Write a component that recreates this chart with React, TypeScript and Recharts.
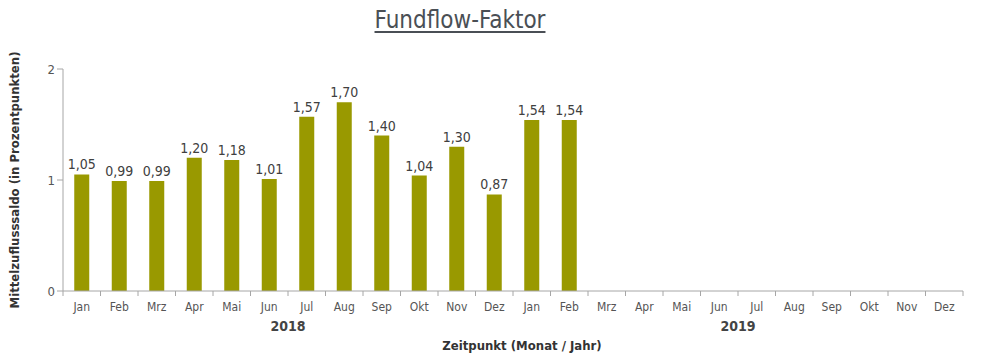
import { BarChart, Bar, XAxis, YAxis, LabelList } from 'recharts';

const months = ['Jan', 'Feb', 'Mrz', 'Apr', 'Mai', 'Jun', 'Jul', 'Aug', 'Sep', 'Okt', 'Nov', 'Dez'];
const years = ['2018', '2019'];
const values2018 = [1.05, 0.99, 0.99, 1.2, 1.18, 1.01, 1.57, 1.7, 1.4, 1.04, 1.3, 0.87];
const values2019 = [1.54, 1.54, null, null, null, null, null, null, null, null, null, null];
const yTicks = [0, 1, 2];

const FONT = '"Liberation Sans Narrow", "DejaVu Sans Condensed", "Open Sans", sans-serif';
const WIDTH = 982;
const HEIGHT = 363;
const MARGIN = { top: 69, right: 19, bottom: 30, left: 13 };
const Y_WIDTH = 50;
const BAND = (WIDTH - MARGIN.left - MARGIN.right - Y_WIDTH) / (months.length * years.length);

const data = years.flatMap((year, yi) =>
  months.map((m, i) => ({
    key: `${m} ${year}`,
    month: m,
    value: (yi === 0 ? values2018 : values2019)[i],
  }))
);

const fmt = (v: unknown) => (typeof v === 'number' ? v.toFixed(2).replace('.', ',') : '');

const MonthTick = (props: any) => {
  const { x, y, payload, index } = props;
  const last = index === data.length - 1;
  return (
    <g>
      <line x1={x - BAND / 2} x2={x - BAND / 2} y1={y - 8} y2={y - 3} stroke="#a6a6a6" />
      {last && <line x1={x + BAND / 2} x2={x + BAND / 2} y1={y - 8} y2={y - 3} stroke="#a6a6a6" />}
      <text x={x} y={y + 12} textAnchor="middle" fontSize={12} fill="#555" fontFamily={FONT}>
        {data[index]?.month ?? payload.value}
      </text>
    </g>
  );
};

// year label centred under its 12 months (shift back half a band from Jul)
const YearTick = (props: any) => {
  const { x, y, payload } = props;
  return (
    <text
      x={x - BAND / 2}
      y={y + 10}
      textAnchor="middle"
      fontSize={14}
      fontWeight="bold"
      fill="#444"
      fontFamily={FONT}
    >
      {String(payload.value).split(' ')[1]}
    </text>
  );
};

export default function App() {
  return (
    <div style={{ position: 'absolute', left: 0, top: 0, width: WIDTH, height: HEIGHT, background: '#fff' }}>
      <div
        style={{
          position: 'absolute',
          left: 0,
          width: 920,
          top: 6,
          textAlign: 'center',
          fontFamily: FONT,
          fontSize: 24,
          color: '#4a4f55',
          textDecoration: 'underline',
          textUnderlineOffset: 3,
        }}
      >
        Fundflow-Faktor
      </div>
      <div
        style={{
          position: 'absolute',
          left: 14,
          top: 180,
          transform: 'translate(-50%, -50%) rotate(-90deg)',
          whiteSpace: 'nowrap',
          fontFamily: FONT,
          fontWeight: 'bold',
          fontSize: 13,
          color: '#333',
        }}
      >
        Mittelzuflusssaldo (in Prozentpunkten)
      </div>
      <div
        style={{
          position: 'absolute',
          left: 522,
          top: 338,
          transform: 'translateX(-50%)',
          whiteSpace: 'nowrap',
          fontFamily: FONT,
          fontWeight: 'bold',
          fontSize: 13,
          color: '#333',
        }}
      >
        Zeitpunkt (Monat / Jahr)
      </div>
      <BarChart width={WIDTH} height={HEIGHT} data={data} margin={MARGIN} barCategoryGap="30%">
        <XAxis
          dataKey="key"
          interval={0}
          height={22}
          axisLine={{ stroke: '#a6a6a6' }}
          tickLine={false}
          tick={<MonthTick />}
        />
        <XAxis
          xAxisId="year"
          dataKey="key"
          ticks={years.map((y) => `Jul ${y}`)}
          interval={0}
          axisLine={false}
          tickLine={false}
          height={20}
          tick={<YearTick />}
        />
        <YAxis
          width={Y_WIDTH}
          domain={[0, 2]}
          ticks={yTicks}
          axisLine={{ stroke: '#a6a6a6' }}
          tickLine={{ stroke: '#a6a6a6' }}
          tickSize={6}
          tick={{ fontSize: 13, fill: '#555', fontFamily: FONT }}
        />
        <Bar dataKey="value" fill="#999900" isAnimationActive={false}>
          <LabelList
            dataKey="value"
            position="top"
            formatter={fmt}
            style={{ fontSize: 14, fill: '#404040', fontFamily: FONT }}
          />
        </Bar>
      </BarChart>
    </div>
  );
}
